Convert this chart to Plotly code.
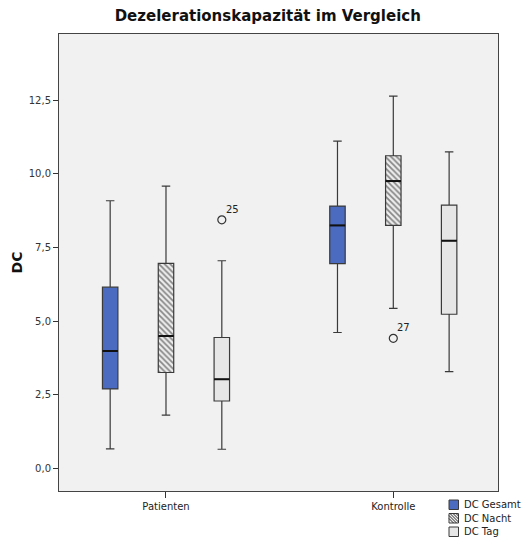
import plotly.graph_objects as go

# Gruppen und Messgrößen
groups = ["Patienten", "Kontrolle"]
series = ["DC Gesamt", "DC Nacht", "DC Tag"]

# Boxplot-Kennwerte je Messgröße, Reihenfolge wie groups
lower = {"DC Gesamt": [0.65, 4.61], "DC Nacht": [1.80, 5.43], "DC Tag": [0.64, 3.28]}
q1 = {"DC Gesamt": [2.69, 6.95], "DC Nacht": [3.25, 8.25], "DC Tag": [2.28, 5.23]}
median = {"DC Gesamt": [3.98, 8.25], "DC Nacht": [4.49, 9.76], "DC Tag": [3.02, 7.73]}
q3 = {"DC Gesamt": [6.15, 8.91], "DC Nacht": [6.96, 10.62], "DC Tag": [4.44, 8.94]}
upper = {"DC Gesamt": [9.09, 11.12], "DC Nacht": [9.59, 12.65], "DC Tag": [7.05, 10.75]}

# Ausreißer: (Messgröße, Gruppenindex, Wert, Fallnummer)
outliers = [("DC Tag", 0, 8.44, "25"), ("DC Nacht", 1, 4.41, "27")]

y_ticks = [0.0, 2.5, 5.0, 7.5, 10.0, 12.5]

fill = {"DC Gesamt": "#4a6bc0", "DC Nacht": "#eeeeee", "DC Tag": "#e6e6e6"}
offset = {"DC Gesamt": -0.2456, "DC Nacht": 0.0, "DC Tag": 0.2456}
box_w = 0.068
line_col = "#3a3a3a"
hatch = dict(shape="\\", fgcolor="#1e1e1e", bgcolor="#eeeeee", size=4, solidity=0.45)

W, H = 525, 545
M = dict(l=59, r=27, t=34, b=54)
PW, PH = W - M["l"] - M["r"], H - M["t"] - M["b"]


def px(x):
    return (x - M["l"]) / PW


def py(y):
    return (H - M["b"] - y) / PH


fig = go.Figure()

for s in series:
    xs = [g + offset[s] for g in range(len(groups))]
    if s == "DC Nacht":
        # schraffierte Füllung des Kastens
        fig.add_trace(go.Bar(
            x=xs, base=q1[s], y=[b - a for a, b in zip(q1[s], q3[s])],
            width=box_w, showlegend=False,
            marker=dict(color=fill[s], line=dict(width=0), pattern=hatch),
            hoverinfo="skip",
        ))
    fig.add_trace(go.Box(
        x=xs, q1=q1[s], median=median[s], q3=q3[s],
        lowerfence=lower[s], upperfence=upper[s],
        width=box_w, whiskerwidth=0.55,
        fillcolor="rgba(0,0,0,0)" if s == "DC Nacht" else fill[s],
        line=dict(color=line_col, width=1.2),
        showlegend=False, name=s,
    ))
    # Median als kräftige Linie
    for i in range(len(groups)):
        fig.add_trace(go.Scatter(
            x=[xs[i] - box_w / 2, xs[i] + box_w / 2], y=[median[s][i]] * 2,
            mode="lines", line=dict(color="#111111", width=2),
            showlegend=False, hoverinfo="skip",
        ))

for s, gi, val, case in outliers:
    fig.add_trace(go.Scatter(
        x=[gi + offset[s]], y=[val], mode="markers",
        marker=dict(symbol="circle-open", size=8, color="#333333", line=dict(width=1.2)),
        showlegend=False,
    ))
    fig.add_annotation(x=gi + offset[s], y=val, text=case, showarrow=False,
                       xanchor="left", yanchor="bottom", xshift=2, yshift=3,
                       font=dict(family="DejaVu Sans", size=10, color="#222222"))

# Legende unten rechts
leg_x0, leg_y0, sq, pitch = 449, 500, 9.5, 13.5
shapes = []
for k, s in enumerate(series):
    top = leg_y0 + k * pitch
    shapes.append(dict(type="rect", xref="paper", yref="paper",
                       x0=px(leg_x0), x1=px(leg_x0 + sq), y0=py(top + sq), y1=py(top),
                       fillcolor=fill[s], line=dict(color=line_col, width=1)))
    if s == "DC Nacht":
        for d in (-5, -2, 1, 4, 7):
            xa = leg_x0 + d
            # Diagonale von links oben nach rechts unten, auf das Quadrat beschnitten
            t0 = max(0, leg_x0 - xa)
            t1 = min(sq, leg_x0 + sq - xa)
            if t1 <= t0:
                continue
            shapes.append(dict(type="line", xref="paper", yref="paper",
                               x0=px(xa + t0), y0=py(top + t0),
                               x1=px(xa + t1), y1=py(top + t1),
                               line=dict(color="#2a2a2a", width=1)))
    fig.add_annotation(xref="paper", yref="paper", x=px(leg_x0 + sq + 3), y=py(top + sq / 2),
                       text=s, showarrow=False, xanchor="left", yanchor="middle",
                       font=dict(family="DejaVu Sans", size=10, color="#222222"))

fig.update_layout(
    width=W, height=H,
    margin=M,
    paper_bgcolor="white", plot_bgcolor="#f1f1f1",
    separators=",.",
    barmode="overlay",
    showlegend=False,
    shapes=shapes,
    title=dict(text="<b>Dezelerationskapazität im Vergleich</b>", x=0.51, xanchor="center",
               y=0.972, yanchor="middle",
               font=dict(family="DejaVu Sans", size=15, color="#111111")),
    xaxis=dict(range=[-0.4707, 1.4606], tickvals=[0, 1], ticktext=groups,
               ticks="outside", ticklen=6, tickcolor="#333333",
               showgrid=False, zeroline=False, showline=True, mirror=True,
               linecolor="#444444", linewidth=1,
               tickfont=dict(family="DejaVu Sans", size=10, color="#222222")),
    yaxis=dict(range=[-0.78, 14.76], tickvals=y_ticks, tickformat=".1f",
               ticks="outside", ticklen=5, tickcolor="#333333",
               showgrid=False, zeroline=False, showline=True, mirror=True,
               linecolor="#444444", linewidth=1,
               title=dict(text="<b>DC</b>", standoff=2,
                          font=dict(family="DejaVu Sans", size=14, color="#111111")),
               tickfont=dict(family="DejaVu Sans", size=10, color="#333333")),
)

fig.write_html("out.html")
